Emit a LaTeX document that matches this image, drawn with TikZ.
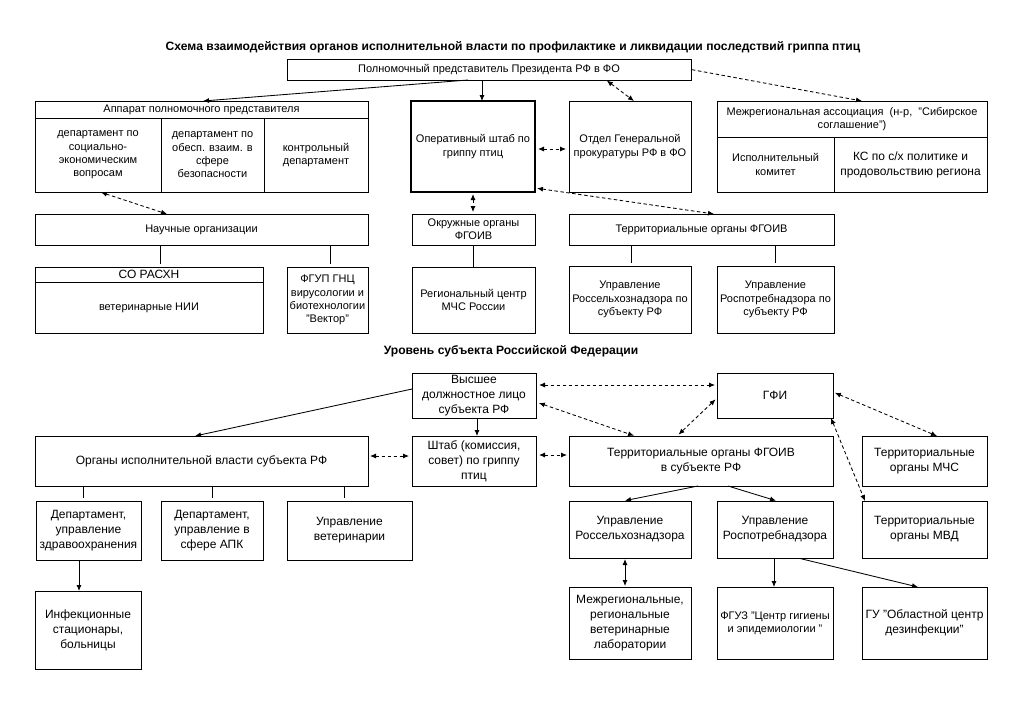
\documentclass[tikz,border=0pt]{standalone}
\usepackage{fontspec}
\setmainfont{Liberation Sans}
\usetikzlibrary{arrows.meta}
\newcommand\fsa{\fontsize{11}{13.3}\selectfont}
\newcommand\fsb{\fontsize{12}{15}\selectfont}
\newcommand\mybox[7][]{\node[box,minimum width={(#5-#3)*1pt},minimum height={(#6-#4)*1pt},#1] (#2) at ({(#3+#5)/2},{(#4+#6)/2}) {#7};}
\begin{document}
\begin{tikzpicture}[x=1pt,y=-1pt,
  box/.style={draw,line width=1pt,inner sep=1pt,outer sep=0pt,align=center,font=\fsa},
  big/.style={font=\fsb},
  heavy/.style={line width=2.6pt},
  con/.style={line width=0.85pt},
  arr/.style={con,-{Latex[length=6pt,width=5pt]}},
  darr/.style={con,{Latex[length=6pt,width=5pt]}-{Latex[length=6pt,width=5pt]}},
  dsh/.style={dash pattern=on 3.5pt off 2.5pt},
  ttl/.style={font=\bfseries\fontsize{12.1}{14}\selectfont,inner sep=0pt}]
\fill[white] (0,0) rectangle (1024,724);
\useasboundingbox (0,0) rectangle (1024,724);

% ---------- upper level ----------
\node[ttl] (title) at (513,47) {Схема взаимодействия органов исполнительной власти по профилактике и ликвидации последствий гриппа птиц};
\mybox{top}{287}{59}{691}{80}{Полномочный представитель Президента РФ в ФО}
\mybox{apph}{35}{101}{368}{118}{Аппарат полномочного представителя}
\mybox{app1}{35}{118}{161}{192}{департамент по\\социально-\\экономическим\\вопросам}
\mybox{app2}{161}{118}{264}{192}{департамент по\\обесп. взаим. в\\сфере\\безопасности}
\mybox{app3}{264}{118}{368}{192}{контрольный\\департамент}
\mybox[heavy]{oper}{411}{101}{535}{192}{Оперативный штаб по\\гриппу птиц}
\mybox{prok}{569}{101}{691}{192}{Отдел Генеральной\\прокуратуры РФ в ФО}
\mybox{mezh}{717}{101}{987}{137}{Межрегиональная ассоциация\ \ (н-р,\ \ "Сибирское\\соглашение")}
\mybox{mezh1}{717}{137}{834}{192}{Исполнительный\\комитет}
\mybox[big]{mezh2}{834}{137}{987}{192}{КС по с/х политике и\\продовольствию региона}
\mybox{nauch}{35}{214}{368}{245}{Научные организации}
\mybox[big]{sorah}{35}{267}{263}{282}{СО РАСХН}
\mybox{sora}{35}{282}{263}{333}{ветеринарные НИИ}
\mybox{fgup}{287}{267}{368}{333}{ФГУП ГНЦ\\вирусологии и\\биотехнологии\\"Вектор"}
\mybox{okr}{412}{214}{535}{245}{Окружные органы\\ФГОИВ}
\mybox{regc}{412}{267}{535}{333}{Региональный центр\\МЧС России}
\mybox{terrF}{569}{214}{834}{245}{Территориальные органы ФГОИВ}
\mybox{rsh}{569}{266}{691}{333}{Управление\\Россельхознадзора по\\субъекту РФ}
\mybox{rpn}{717}{266}{834}{333}{Управление\\Роспотребнадзора по\\субъекту РФ}

\draw[arr] (top.south -| 468,0) -- (apph.north -| 203,0);
\draw[arr] (top.south -| 482,0) -- (oper.north -| 482,0);
\draw[darr,dsh,shorten <=1pt] (top.south -| 606,0) -- (prok.north -| 634,0);
\draw[arr,dsh,shorten <=1pt] (top.east) -- (mezh.north -| 862,0);
\draw[darr,dsh,shorten <=3pt,shorten >=3pt] (oper.east |- 0,149) -- (prok.west |- 0,149);
\draw[darr,dsh,shorten <=2pt] (oper.east |- 0,188) -- (terrF.north -| 714,0);
\draw[darr,dsh,shorten <=1pt] (app1.south -| 100,0) -- (nauch.north -| 167,0);
\draw[darr,dsh,shorten <=2pt,shorten >=2pt] (oper.south -| 473,0) -- (okr.north -| 473,0);
\draw[con,shorten >=3pt] (nauch.south -| 160,0) -- (sorah.north -| 160,0);
\draw[con,shorten >=3pt] (nauch.south -| 330,0) -- (fgup.north -| 330,0);
\draw[con] (okr.south -| 473,0) -- (regc.north -| 473,0);
\draw[con,shorten >=3pt] (terrF.south -| 631,0) -- (rsh.north -| 631,0);
\draw[con,shorten >=3pt] (terrF.south -| 775,0) -- (rpn.north -| 775,0);

% ---------- subject level ----------
\node[ttl] (level) at (511,351) {Уровень субъекта Российской Федерации};
\mybox[big]{vys}{412}{373}{536}{418}{Высшее\\должностное лицо\\субъекта РФ}
\mybox[big]{gfi}{717}{373}{833}{418}{ГФИ}
\mybox[big]{org}{35}{436}{368}{486}{Органы исполнительной власти субъекта РФ}
\mybox[big]{shtab}{412}{436}{536}{486}{Штаб (комиссия,\\совет) по гриппу\\птиц}
\mybox[big]{terrS}{569}{436}{833}{486}{Территориальные органы ФГОИВ\\в субъекте РФ}
\mybox[big]{mchs}{862}{436}{987}{486}{Территориальные\\органы МЧС}
\mybox[big]{dep1}{36}{501}{141}{560}{Департамент,\\управление\\здравоохранения}
\mybox[big]{dep2}{161}{501}{263}{560}{Департамент,\\управление в\\сфере АПК}
\mybox[big]{vet}{287}{501}{412}{560}{Управление\\ветеринарии}
\mybox[big]{ursh}{569}{501}{691}{558}{Управление\\Россельхознадзора}
\mybox[big]{urpn}{717}{501}{833}{558}{Управление\\Роспотребнадзора}
\mybox[big]{mvd}{862}{501}{987}{558}{Территориальные\\органы МВД}
\mybox[big]{inf}{35}{591}{141}{669}{Инфекционные\\стационары,\\больницы}
\mybox[big]{lab}{569}{587}{691}{659}{Межрегиональные,\\региональные\\ветеринарные\\лаборатории}
\mybox{fguz}{717}{587}{833}{659}{ФГУЗ "Центр гигиены\\и эпидемиологии "}
\mybox[big]{gu}{862}{587}{987}{659}{ГУ "Областной центр\\дезинфекции"}

\draw[arr] (vys.west |- 0,389) -- (org.north -| 195,0);
\draw[arr] (vys.south -| 477,0) -- (shtab.north -| 477,0);
\draw[darr,dsh,shorten <=3pt,shorten >=2pt] (vys.east |- 0,385) -- (gfi.west |- 0,385);
\draw[darr,dsh,shorten <=3pt,shorten >=1pt] (vys.east |- 0,402) -- (terrS.north -| 635,0);
\draw[darr,dsh,shorten <=2pt,shorten >=2pt] (gfi.west |- 0,398) -- (terrS.north -| 677,0);
\draw[darr,dsh,shorten <=2pt] (gfi.east |- 0,392) -- (mchs.north -| 937,0);
\draw[darr,dsh] (gfi.south -| 831,0) -- (mvd.north -| 865,0);
\draw[darr,dsh,shorten <=2pt,shorten >=3pt] (org.east |- 0,456) -- (shtab.west |- 0,456);
\draw[darr,dsh,shorten <=3pt,shorten >=2pt] (shtab.east |- 0,455) -- (terrS.west |- 0,455);
\draw[con,shorten >=3pt] (org.south -| 83,0) -- (dep1.north -| 83,0);
\draw[con,shorten >=3pt] (org.south -| 212,0) -- (dep2.north -| 212,0);
\draw[con,shorten >=3pt] (org.south -| 344,0) -- (vet.north -| 344,0);
\draw[arr] (dep1.south -| 79,0) -- (inf.north -| 79,0);
\draw[arr,shorten >=2pt] (terrS.south -| 698,0) -- (ursh.north -| 623,0);
\draw[arr,shorten >=1pt] (terrS.south -| 728,0) -- (urpn.north -| 777,0);
\draw[darr,shorten <=1pt,shorten >=1pt] (ursh.south -| 625,0) -- (lab.north -| 625,0);
\draw[arr] (urpn.south -| 774,0) -- (fguz.north -| 774,0);
\draw[arr,shorten <=2pt] (urpn.south -| 798,0) -- (gu.north -| 918,0);
\end{tikzpicture}
\end{document}
